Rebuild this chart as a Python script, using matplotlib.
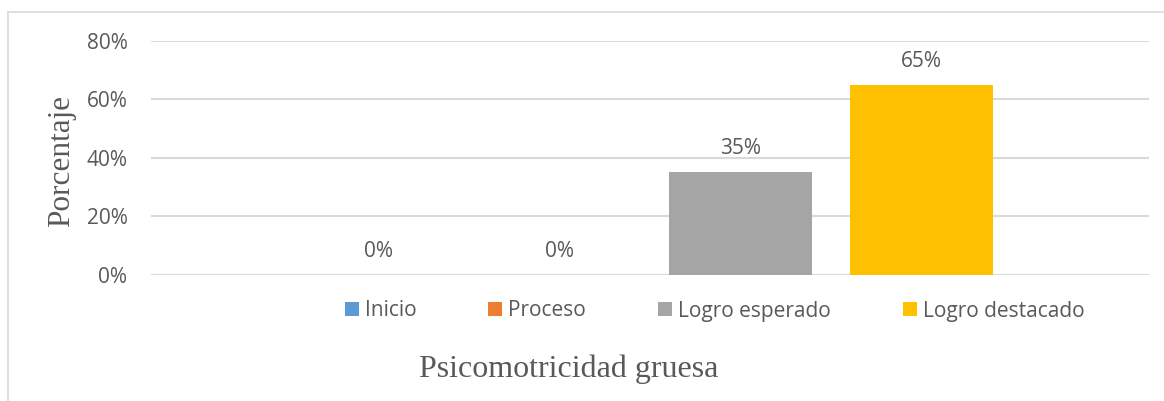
import matplotlib
matplotlib.use("Agg")
import matplotlib.pyplot as plt
from matplotlib.lines import Line2D
from matplotlib.patches import Patch

# data
series = ["Inicio", "Proceso", "Logro esperado", "Logro destacado"]
values = [0.0, 0.0, 0.35, 0.65]
colors = ["#5B9BD5", "#ED7D31", "#A5A5A5", "#FFC000"]
yticks = [0.0, 0.2, 0.4, 0.6, 0.8]
ytick_labels = ["0%", "20%", "40%", "60%", "80%"]
category = "Psicomotricidad gruesa"
ylabel = "Porcentaje"

W, H = 1164, 401
txt = "#595959"
grid = "#D9D9D9"
sans = ["Open Sans", "DejaVu Sans"]
serif = ["Liberation Serif", "DejaVu Serif"]

fig = plt.figure(figsize=(W / 100, H / 100), dpi=100)
fig.patch.set_facecolor("white")

# plot area in pixels: x 151..1149, y 40.7..274.7
ax = fig.add_axes([151 / W, 1 - 274.7 / H, 998 / W, 234 / H])

bar_w = 142.5 / 998
step = 181 / 998
n = len(series)
xs = [(i - (n - 1) / 2) * step for i in range(n)]

for x, v, c, name in zip(xs, values, colors, series):
    ax.bar(x, v, width=bar_w, color=c, label=name, zorder=3)
    ax.annotate("{:.0f}%".format(v * 100), (x, v), xytext=(0, 13),
                textcoords="offset points", ha="center", va="baseline",
                fontsize=15, color=txt, family=sans)

ax.set_xlim(-0.5, 0.5)
ax.set_ylim(0, 0.8)
ax.set_yticks(yticks)
ax.set_yticklabels(ytick_labels, family=sans, fontsize=15, color=txt)
ax.set_xticks([])
ax.tick_params(axis="y", length=0, pad=17)
ax.grid(axis="y", color=grid, linewidth=1.5, zorder=0)
ax.set_axisbelow(True)
for s in ax.spines.values():
    s.set_visible(False)

handles = [Patch(facecolor=c, edgecolor="none") for c in colors]
leg = fig.legend(handles, series, loc="center", bbox_to_anchor=(714.5 / W, 1 - 311 / H),
                 ncol=4, frameon=False, handlelength=0.67, handleheight=0.67,
                 handletextpad=0.29, columnspacing=3.45, borderpad=0,
                 prop={"family": sans, "size": 15})
for t in leg.get_texts():
    t.set_color(txt)

fig.text(569 / W, 1 - 377 / H, category, ha="center", va="baseline",
         family=serif, fontsize=23, color=txt)
fig.text(62 / W, 1 - 161 / H, ylabel, ha="center", va="center", rotation=90,
         family=serif, fontsize=22.5, color=txt)

# chart border (top and left edges visible)
fig.add_artist(Line2D([8 / W, 1], [1 - 12 / H, 1 - 12 / H], color=grid, linewidth=1.2))
fig.add_artist(Line2D([8 / W, 8 / W], [0, 1 - 12 / H], color=grid, linewidth=1.2))

fig.savefig("out.png", dpi=100)
